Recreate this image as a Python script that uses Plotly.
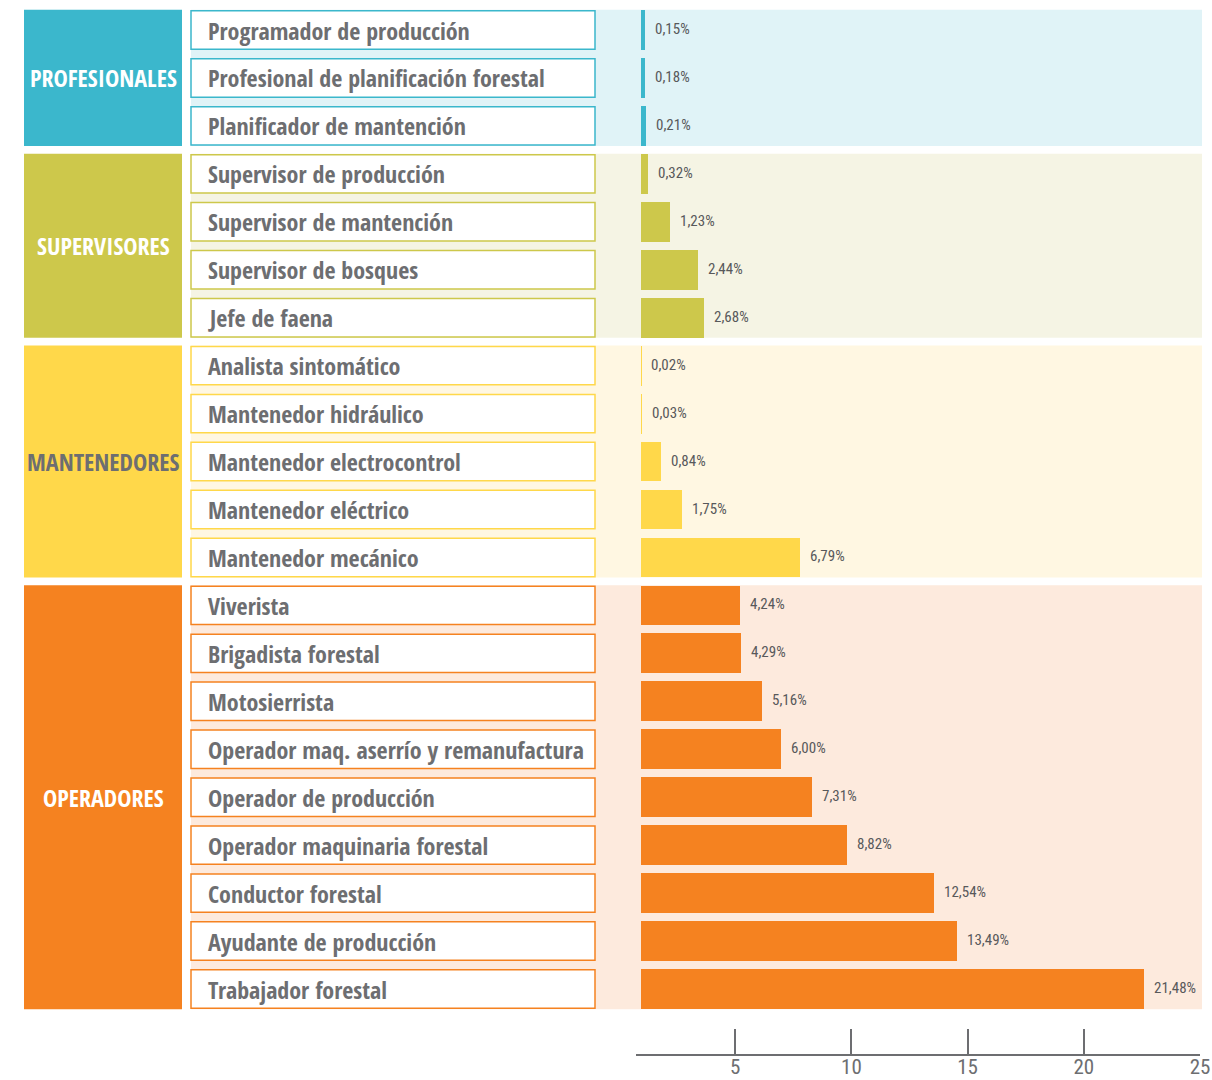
import plotly.graph_objects as go

W, H = 1212, 1080

puestos = [
    "Programador de producción", "Profesional de planificación forestal", "Planificador de mantención",
    "Supervisor de producción", "Supervisor de mantención", "Supervisor de bosques", "Jefe de faena",
    "Analista sintomático", "Mantenedor hidráulico", "Mantenedor electrocontrol",
    "Mantenedor eléctrico", "Mantenedor mecánico",
    "Viverista", "Brigadista forestal", "Motosierrista", "Operador maq. aserrío y remanufactura",
    "Operador de producción", "Operador maquinaria forestal", "Conductor forestal",
    "Ayudante de producción", "Trabajador forestal",
]
porcentajes = [0.15, 0.18, 0.21,
               0.32, 1.23, 2.44, 2.68,
               0.02, 0.03, 0.84, 1.75, 6.79,
               4.24, 4.29, 5.16, 6.00, 7.31, 8.82, 12.54, 13.49, 21.48]
grupos = ["PROFESIONALES", "SUPERVISORES", "MANTENEDORES", "OPERADORES"]
n_por_grupo = [3, 4, 5, 9]
color_fuerte = ["#3bb7cc", "#cdc84b", "#ffd84a", "#f58220"]
color_suave = ["#e0f3f7", "#f5f4e4", "#fff7e2", "#fdeadd"]
color_texto_grupo = ["white", "white", "#6d6e71", "white"]
ticks_eje = [5, 10, 15, 20, 25]

GRIS = "#6d6e71"
FUENTE_B = "Open Sans Condensed, Roboto Condensed, sans-serif"
FUENTE_R = "Roboto Condensed, sans-serif"

# fila -> grupo
idx_grupo = []
for g, n in enumerate(n_por_grupo):
    idx_grupo += [g] * n
filas = list(range(len(puestos)))
colores = [color_fuerte[g] for g in idx_grupo]

fig = go.Figure()
fig.add_trace(go.Bar(x=porcentajes, y=filas, orientation="h", width=0.83,
                     marker=dict(color=colores, line=dict(width=0)),
                     hoverinfo="skip", showlegend=False))
# trace invisible para el eje inferior
fig.add_trace(go.Scatter(x=ticks_eje, y=[None] * len(ticks_eje), xaxis="x2", yaxis="y",
                         mode="markers", marker=dict(opacity=0), hoverinfo="skip", showlegend=False))

shapes = []
annotations = []
inicio = 0
for g, n in enumerate(n_por_grupo):
    y0 = inicio - 0.42
    y1 = inicio + n - 1 + 0.42
    shapes.append(dict(type="rect", xref="paper", yref="y", x0=191 / W, x1=1202 / W, y0=y0, y1=y1,
                       fillcolor=color_suave[g], line=dict(width=0), layer="below"))
    shapes.append(dict(type="rect", xref="paper", yref="y", x0=24 / W, x1=182 / W, y0=y0, y1=y1,
                       fillcolor=color_fuerte[g], line=dict(width=0), layer="below"))
    annotations.append(dict(text="<b>" + grupos[g] + "</b>", xref="paper", yref="y",
                            x=103 / W, y=inicio + (n - 1) / 2, xanchor="center", yanchor="middle",
                            showarrow=False, font=dict(family=FUENTE_B, size=24, color=color_texto_grupo[g])))
    inicio += n

for i, nombre in enumerate(puestos):
    g = idx_grupo[i]
    shapes.append(dict(type="rect", xref="paper", yref="y", x0=191 / W, x1=595 / W,
                       y0=i - 0.4, y1=i + 0.4, fillcolor="white",
                       line=dict(color=color_fuerte[g], width=1.5), layer="below"))
    annotations.append(dict(text="<b>" + nombre + "</b>", xref="paper", yref="y", x=206 / W, y=i,
                            xanchor="left", yanchor="middle", showarrow=False,
                            font=dict(family=FUENTE_B, size=24, color=GRIS)))
    annotations.append(dict(text=f"{porcentajes[i]:.2f}%".replace(".", ","), xref="x", yref="y",
                            x=porcentajes[i], y=i, xanchor="left", yanchor="middle", xshift=8, yshift=1,
                            showarrow=False, font=dict(family=FUENTE_R, size=15, color="#58595b")))

px_unidad = 23.4
fig.update_layout(
    width=W, height=H, margin=dict(l=0, r=0, t=0, b=0, autoexpand=False),
    paper_bgcolor="white", plot_bgcolor="rgba(0,0,0,0)",
    shapes=shapes, annotations=annotations, bargap=0,
    xaxis=dict(domain=[641 / W, 1202 / W], range=[0, (1202 - 641) / px_unidad], visible=False,
               fixedrange=True, automargin=False),
    yaxis=dict(domain=[0, 1], range=[(H - 30) / 47.95, -30 / 47.95], visible=False, fixedrange=True,
               automargin=False),
    xaxis2=dict(domain=[636 / W, 1200 / W], range=[(636 - 619) / 23.24, 25], anchor="free",
                position=1 - 1055 / H, tickvals=ticks_eje, ticks="inside", ticklen=25,
                tickwidth=2, tickcolor=GRIS, showline=True, linewidth=2, linecolor=GRIS,
                showgrid=False, zeroline=False, fixedrange=True, automargin=False,
                ticklabelstandoff=-7,
                tickfont=dict(family=FUENTE_R, size=21, color=GRIS)),
)

fig.write_html("out.html", config={"displayModeBar": False},
               post_script="document.body.style.margin='0';document.body.style.overflow='hidden';")
